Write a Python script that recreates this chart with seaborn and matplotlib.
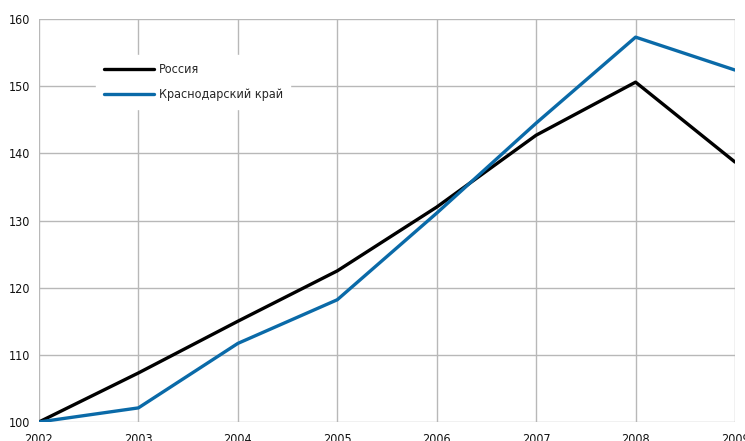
import numpy as np
import pandas as pd
import matplotlib
matplotlib.use('Agg')
import matplotlib.pyplot as plt
import seaborn as sns

years = [2002, 2003, 2004, 2005, 2006, 2007, 2008, 2009]
russia = [100, 107.3, 115.0, 122.5, 132.0, 142.7, 150.6, 138.7]
krasnodar = [100, 102.1, 111.7, 118.2, 131.1, 144.5, 157.3, 152.4]
series_names = ['Россия', 'Краснодарский край']
colors = ['#000000', '#0a6aa8']

df = pd.DataFrame({
    'year': years * 2,
    'value': russia + krasnodar,
    'series': [series_names[0]] * len(years) + [series_names[1]] * len(years),
})

sns.set_style('white')
plt.rcParams['font.family'] = ['DejaVu Sans']
plt.rcParams['font.stretch'] = 'condensed'

fig = plt.figure(figsize=(7.45, 4.41), dpi=100)
ax = fig.add_axes([0.0523, 0.0431, 0.9343, 0.9138])

sns.lineplot(data=df, x='year', y='value', hue='series', palette=colors,
             linewidth=2.4, ax=ax)

ax.set_xlim(2002, 2009)
ax.set_ylim(100, 160)
ax.set_xticks(years)
ax.set_yticks(np.arange(100, 161, 10))
ax.grid(True, color='#b8b8b8', linewidth=1.0)
ax.set_axisbelow(True)
for s in ax.spines.values():
    s.set_visible(False)
ax.tick_params(length=0, labelsize=9, colors='#111111')
ax.tick_params(axis='x', pad=8)
ax.tick_params(axis='y', pad=6)
ax.set_xlabel('')
ax.set_ylabel('')

leg = ax.legend(loc='upper left', bbox_to_anchor=(0.073, 0.925), frameon=True,
                fontsize=9, handlelength=4.0, handletextpad=0.4,
                labelspacing=1.0, borderpad=0.6)
leg.get_frame().set_facecolor('white')
leg.get_frame().set_edgecolor('white')
leg.get_frame().set_alpha(1)

plt.savefig('out.png', dpi=100)
